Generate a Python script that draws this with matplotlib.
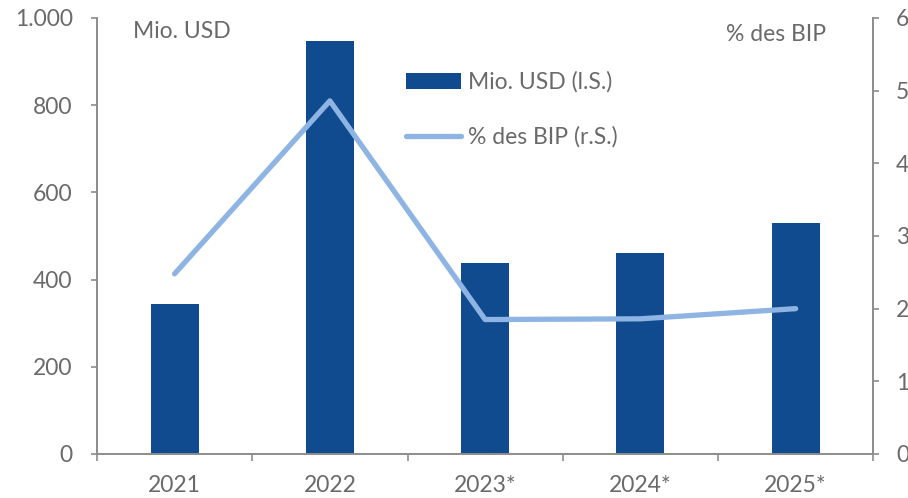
import matplotlib.pyplot as plt
import numpy as np

plt.rcParams['font.family'] = ['Lato', 'DejaVu Sans']

years = ['2021', '2022', '2023*', '2024*', '2025*']
mio_usd = [343, 947, 437, 462, 530]
pct_bip = [2.48, 4.86, 1.85, 1.86, 2.0]

bar_color = '#114B8F'
line_color = '#8DB4E2'
text_color = '#6A6A6A'
axis_color = '#8C8C8C'
fs = 16.5

fig = plt.figure(figsize=(9.08, 4.98), dpi=100)
ax = fig.add_axes([0.1068, 0.0884, 0.855, 0.8755])
ax2 = ax.twinx()

x = np.arange(len(years))
bars = ax.bar(x, mio_usd, width=0.31, color=bar_color, label='Mio. USD (l.S.)', zorder=2)
line, = ax2.plot(x, pct_bip, color=line_color, linewidth=3.8, solid_capstyle='round',
                 label='% des BIP (r.S.)', zorder=3)

ax.set_xlim(-0.5, len(years) - 0.5)
ax.set_ylim(0, 1000)
ax2.set_ylim(0, 6)
ax.set_yticks(range(0, 1001, 200))
ax.set_yticklabels(['0', '200', '400', '600', '800', '1.000'])
ax2.set_yticks(range(0, 7))

# category ticks sit between the bars, labels under the bars
ax.set_xticks(np.arange(-0.5, len(years), 1.0))
ax.set_xticklabels([])
ax.set_xticks(x, minor=True)
ax.set_xticklabels(years, minor=True)
ax.tick_params(axis='x', which='minor', length=0, pad=15, labelsize=fs, labelcolor=text_color)
ax.tick_params(axis='x', which='major', length=5, color=axis_color, width=1.2)

ax.tick_params(axis='y', length=4.5, color=axis_color, width=1.2, labelsize=fs,
               labelcolor=text_color, pad=13)
ax2.tick_params(axis='y', length=4.5, color=axis_color, width=1.2, labelsize=fs,
                labelcolor=text_color, pad=12)

for a in (ax, ax2):
    a.spines['top'].set_visible(False)
    for s in ('left', 'right', 'bottom'):
        a.spines[s].set_color(axis_color)
        a.spines[s].set_linewidth(1.2)
ax2.patch.set_visible(False)
ax2.set_zorder(1)
ax.set_zorder(0)

ax.text(0.046, 0.968, 'Mio. USD', transform=ax.transAxes, fontsize=fs,
        color=text_color, va='center', ha='left')
ax.text(0.939, 0.962, '% des BIP', transform=ax.transAxes, fontsize=fs,
        color=text_color, va='center', ha='right')

leg = ax2.legend([bars, line], ['Mio. USD (l.S.)', '% des BIP (r.S.)'],
                 loc='upper left', bbox_to_anchor=(0.372, 0.925), frameon=False,
                 fontsize=fs, handlelength=2.4, handletextpad=0.3, labelspacing=1.45)
for t in leg.get_texts():
    t.set_color(text_color)

fig.savefig('out.png', dpi=100)
